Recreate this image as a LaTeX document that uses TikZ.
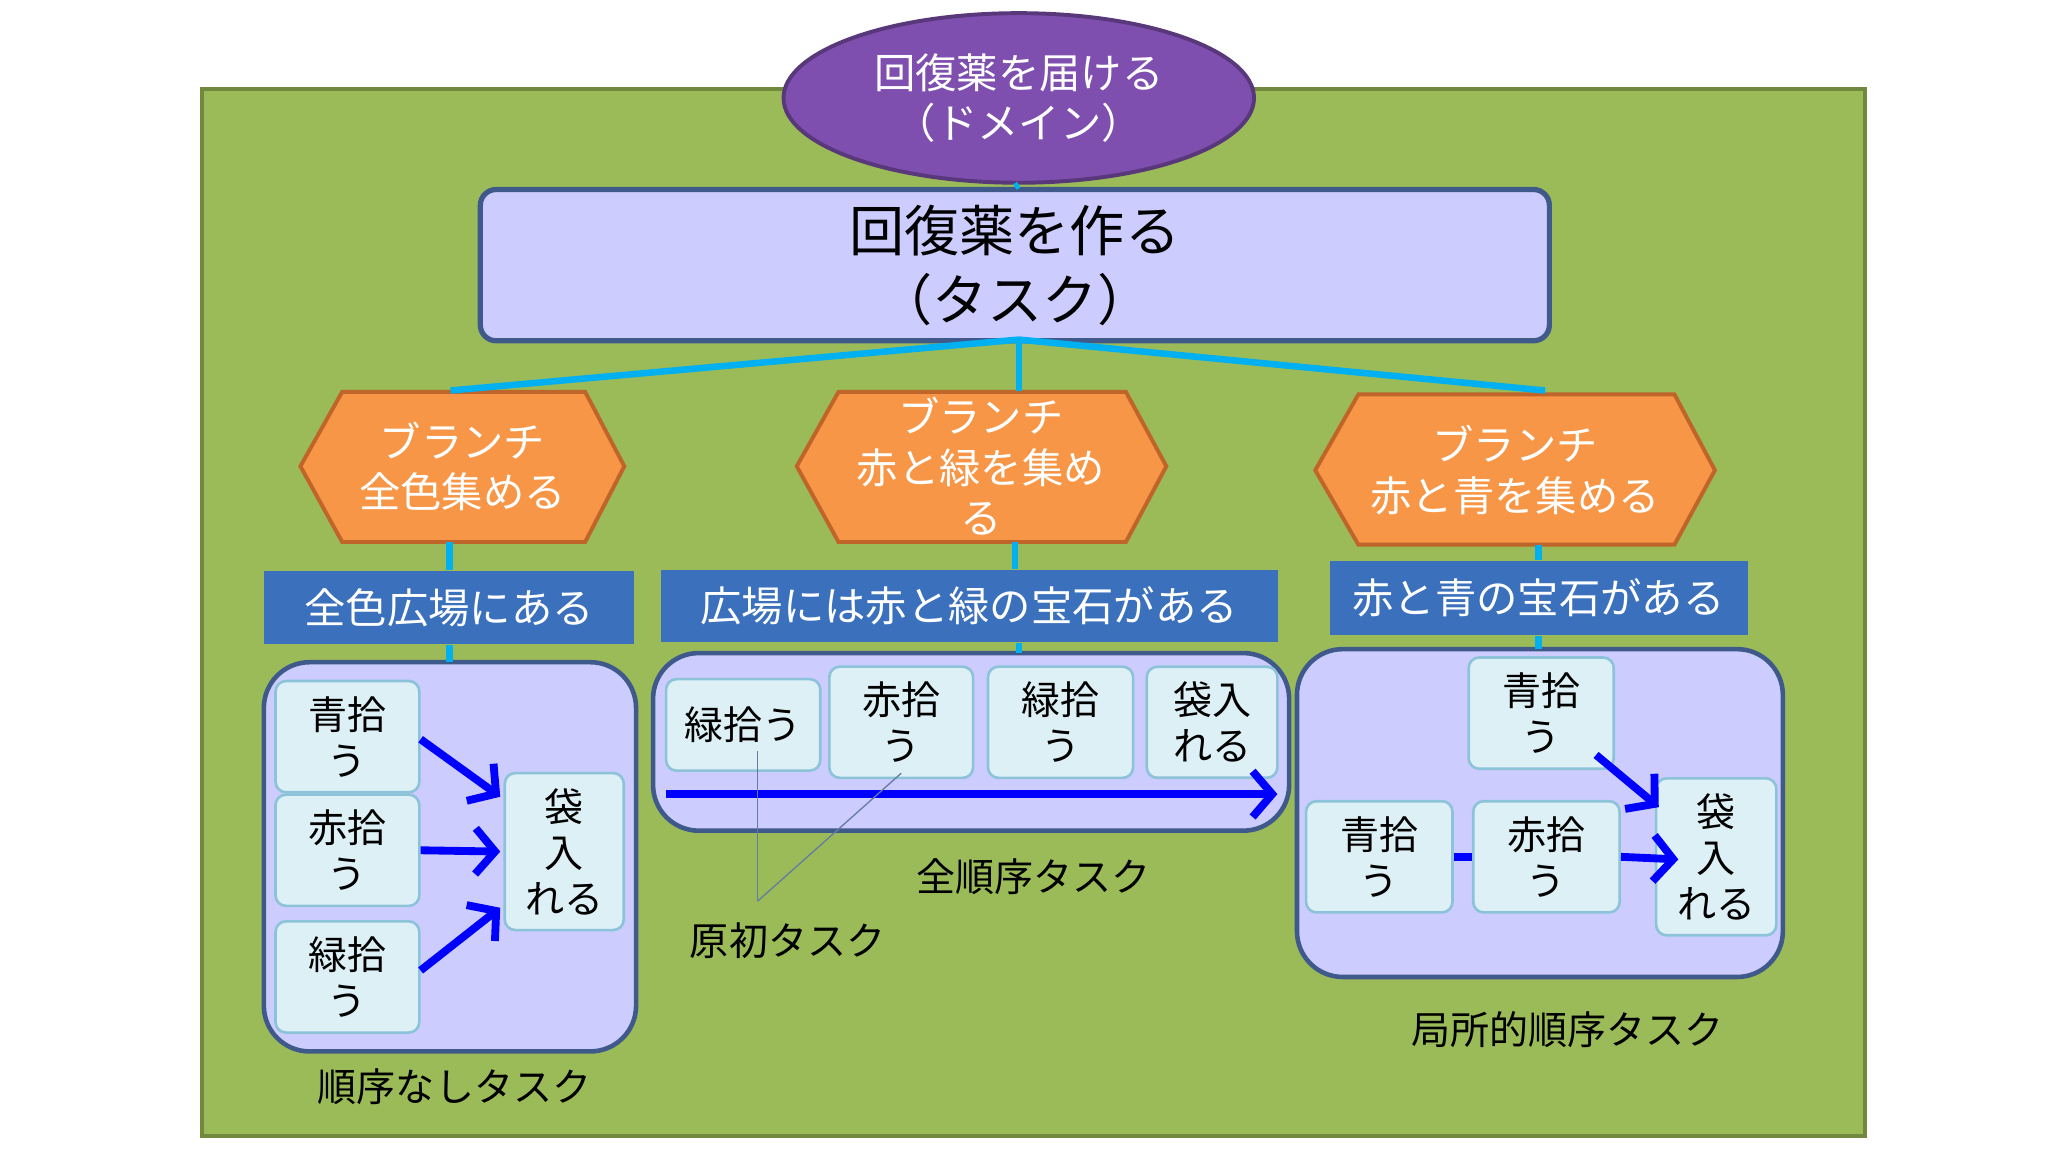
\documentclass[tikz,border=0pt]{standalone}
\usepackage{fontspec}
\setmainfont{Noto Sans CJK JP}
\usetikzlibrary{shapes.geometric,arrows.meta}
\definecolor{grn}{HTML}{9BBB59}
\definecolor{grnb}{HTML}{71893F}
\definecolor{purp}{HTML}{7F4FB0}
\definecolor{lav}{HTML}{CCCCFF}
\definecolor{navyb}{HTML}{3F5A8A}
\definecolor{org}{HTML}{F79646}
\definecolor{orgb}{HTML}{C0652A}
\definecolor{ban}{HTML}{3A70BC}
\definecolor{cy}{HTML}{00B0F0}
\definecolor{sm}{HTML}{DDF0F6}
\definecolor{smb}{HTML}{8DC3D8}
\tikzset{
 cline/.style={cy,line width=0.05cm},
 hexa/.style={regular polygon,regular polygon sides=6,shape border rotate=0,draw=orgb,fill=org,line width=0.03cm,text=white,font=\fontsize{9}{10.5}\selectfont,align=center},
 banner/.style={fill=ban,text=white,font=\fontsize{9}{10}\selectfont},
 cont/.style={draw=navyb,fill=lav,line width=0.035cm,rounded corners=0.35cm},
 smb/.style={draw=smb,fill=sm,line width=0.02cm,rounded corners=0.08cm,align=center,font=\fontsize{8.5}{10}\selectfont},
 barr/.style={blue,line width=0.06cm,-{Straight Barb[length=0.15cm,width=0.35cm]}},
 lbl/.style={font=\fontsize{8.5}{10}\selectfont}
}
\begin{document}
\begin{tikzpicture}[x=0.01cm,y=-0.01cm]
\useasboundingbox (0,0) rectangle (1568,882);
\fill[white] (0,0) rectangle (1568,882);
\draw[grnb,fill=grn,line width=0.03cm] (155,68) rectangle (1428,870);
% ellipse
\node[ellipse,draw=purp!70!black,fill=purp,line width=0.03cm,minimum width=3.6cm,minimum height=1.16cm,text=white,align=center,font=\fontsize{9}{11}\selectfont] (dom) at (780,75) {回復薬を届ける\\（ドメイン）};
% task
\node[draw=navyb,fill=lav,line width=0.04cm,rounded corners=0.12cm,minimum width=8.18cm,minimum height=1.05cm,align=center,font=\fontsize{12}{15}\selectfont] (task) at (777,203) {回復薬を作る\\（タスク）};
\draw[cline] (dom.south) -- (task.north);
% hexagons via paths
\coordinate (tb) at (780,260);
\draw[orgb,fill=org,line width=0.03cm] (262,300)--(448,300)--(478,357)--(448,415)--(262,415)--(230,357)--cycle;
\draw[orgb,fill=org,line width=0.03cm] (642,300)--(862,300)--(893,357)--(862,415)--(642,415)--(610,357)--cycle;
\draw[orgb,fill=org,line width=0.03cm] (1040,302)--(1282,302)--(1313,360)--(1282,417)--(1040,417)--(1007,360)--cycle;
\node[text=white,align=center,font=\fontsize{9}{11}\selectfont] (h1) at (354,357) {ブランチ\\全色集める};
\node[text=white,align=center,font=\fontsize{9}{11}\selectfont] (h2) at (751,357) {ブランチ\\赤と緑を集め\\る};
\node[text=white,align=center,font=\fontsize{9}{11}\selectfont] (h3) at (1160,360) {ブランチ\\赤と青を集める};
\coordinate (h1t) at (345,299); \coordinate (h2t) at (780,299); \coordinate (h3t) at (1183,299);
\draw[cline] (tb)--(h1t); \draw[cline] (tb)--(h2t); \draw[cline] (tb)--(h3t);
% banners
\node[banner,minimum width=2.83cm,minimum height=0.56cm] (b1) at (344,465) {全色広場にある};
\node[banner,minimum width=4.72cm,minimum height=0.55cm] (b2) at (742,464) {広場には赤と緑の宝石がある};
\node[banner,minimum width=3.2cm,minimum height=0.57cm] (b3) at (1178,458) {赤と青の宝石がある};
\coordinate (h1b) at (344,415); \coordinate (h2b) at (777,415); \coordinate (h3b) at (1178,417);
\draw[cline] (h1b)--(b1.north); \draw[cline] (h2b)--(h2b|-b2.north); \draw[cline] (h3b)--(b3.north);
% containers
\draw[cont] (202,507) rectangle (487,805);
\draw[cont] (500,500) rectangle (987,636);
\draw[cont] (993,497) rectangle (1365,748);
\coordinate (c1) at (344,507); \coordinate (c2) at (780,500); \coordinate (c3) at (1178,497);
\draw[cline] (b1.south)--(c1); \draw[cline] (c2|-b2.south)--(c2); \draw[cline] (b3.south)--(c3);
% left
\node[smb,minimum width=1.1cm,minimum height=0.72cm] (l1) at (266,564) {青拾\\う};
\node[smb,minimum width=1.1cm,minimum height=0.72cm] (l2) at (266,651) {赤拾\\う};
\node[smb,minimum width=1.1cm,minimum height=0.72cm] (l3) at (266,748) {緑拾\\う};
\node[smb,minimum width=0.91cm,minimum height=0.76cm] (l4) at (432,652) {袋\\入\\れる};
\draw[barr] (l1.east)++(0,2) -- (383,610);
\draw[barr] (l2.east) -- (383,652);
\draw[barr] (l3.east)++(0,-5) -- (383,695);
% middle
\node[smb,minimum width=1.18cm,minimum height=0.7cm] (m1) at (569,555) {緑拾う};
\node[smb,minimum width=1.1cm,minimum height=0.73cm] (m2) at (690,553) {赤拾\\う};
\node[smb,minimum width=1.11cm,minimum height=0.73cm] (m3) at (812,553) {緑拾\\う};
\node[smb,minimum width=1.0cm,minimum height=0.73cm] (m4) at (928,553) {袋入\\れる};
\coordinate (ms) at (510,608); \coordinate (me) at (978,608);
\draw[barr] (ms)--(me);
% right
\node[smb,minimum width=1.11cm,minimum height=0.73cm] (r1) at (1180,546) {青拾\\う};
\node[smb,minimum width=1.12cm,minimum height=0.73cm] (r2) at (1056,656) {青拾\\う};
\node[smb,minimum width=1.12cm,minimum height=0.73cm] (r3) at (1184,656) {赤拾\\う};
\node[smb,minimum width=0.92cm,minimum height=0.73cm] (r4) at (1314,656) {袋\\入\\れる};
\draw[barr] (1222,578) -- (1270,618);
\draw[blue,line width=0.06cm] (r2.east)--(r3.west);
\draw[barr] (r3.east)--(1285,658);
% labels
\node[lbl] (t1) at (348,832) {順序なしタスク};
\node[lbl] (t2) at (791,671) {全順序タスク};
\node[lbl] (t3) at (603,720) {原初タスク};
\node[lbl] (t4) at (1200,788) {局所的順序タスク};
\coordinate (p0) at (580,690);
\draw[navyb!80,line width=0.01cm] (p0)--(580,575);
\draw[navyb!80,line width=0.01cm] (p0)--(690,592);
\end{tikzpicture}
\end{document}
